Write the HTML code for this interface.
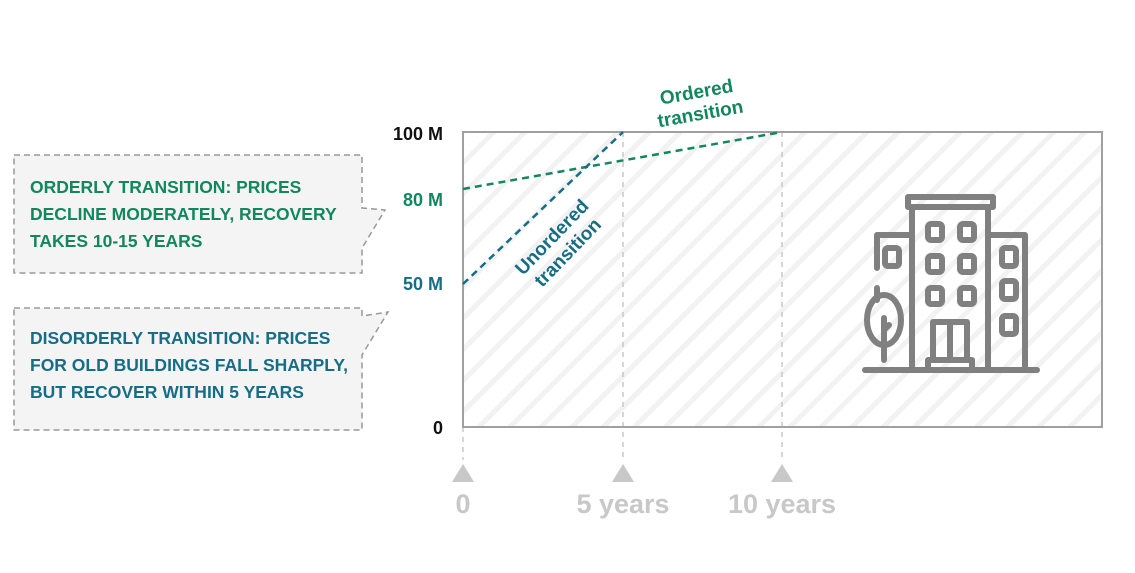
<!DOCTYPE html>
<html><head><meta charset="utf-8"><style>
body{margin:0;background:#fff;width:1135px;height:568px;overflow:hidden}
svg text{font-family:"Liberation Sans",sans-serif;font-weight:bold}
</style></head><body>
<svg width="1135" height="568" viewBox="0 0 1135 568" xmlns="http://www.w3.org/2000/svg">
<defs>
<pattern id="st" patternUnits="userSpaceOnUse" width="22" height="22" patternTransform="rotate(45)">
<rect width="22" height="22" fill="#fff"/><rect x="0" y="0" width="5" height="22" fill="#f2f2f2"/>
</pattern>
</defs>
<rect x="463" y="132" width="639" height="295" fill="url(#st)"/>
<line x1="623" y1="132" x2="623" y2="460" stroke="#c8c8c8" stroke-width="1.5" stroke-dasharray="5,5"/>
<line x1="782" y1="132" x2="782" y2="460" stroke="#c8c8c8" stroke-width="1.5" stroke-dasharray="5,5"/>
<line x1="463" y1="427" x2="463" y2="460" stroke="#c8c8c8" stroke-width="1.5" stroke-dasharray="5,5"/>
<rect x="463" y="132" width="639" height="295" fill="none" stroke="#a0a0a0" stroke-width="2"/>
<line x1="463" y1="189" x2="782" y2="132" stroke="#12875e" stroke-width="2.5" stroke-dasharray="7,5"/>
<line x1="463" y1="284" x2="623" y2="132" stroke="#156e86" stroke-width="2.5" stroke-dasharray="7,5"/>
<text x="443" y="140" text-anchor="end" font-size="18" fill="#111">100 M</text>
<text x="443" y="206" text-anchor="end" font-size="18" fill="#12875e">80 M</text>
<text x="443" y="290" text-anchor="end" font-size="18" fill="#156e86">50 M</text>
<text x="443" y="434" text-anchor="end" font-size="18" fill="#111">0</text>
<g transform="translate(700,112) rotate(-10)" fill="#12875e" font-size="19" text-anchor="middle"><text x="0" y="-14">Ordered</text><text x="0" y="8">transition</text></g>
<g transform="translate(560,245) rotate(-46)" fill="#156e86" font-size="19" text-anchor="middle"><text x="0" y="-5">Unordered</text><text x="0" y="17">transition</text></g>
<g fill="#c8c8c8"><polygon points="452,482 474,482 463,464"/><polygon points="612,482 634,482 623,464"/><polygon points="771,482 793,482 782,464"/></g>
<g fill="#c8c8c8" font-size="27" text-anchor="middle"><text x="463" y="513">0</text><text x="623" y="513">5 years</text><text x="782" y="513">10 years</text></g>
<path d="M14,155 H362 V208 L385,210 L362,248 V273 H14 Z" fill="#f5f4f4" stroke="#999" stroke-width="1.5" stroke-dasharray="6,4"/>
<path d="M14,308 H362 V316 L388,312 L362,355 V430 H14 Z" fill="#f5f4f4" stroke="#999" stroke-width="1.5" stroke-dasharray="6,4"/>
<g fill="#12875e" font-size="17.5"><text x="30" y="193">ORDERLY TRANSITION: PRICES</text><text x="30" y="220">DECLINE MODERATELY, RECOVERY</text><text x="30" y="247">TAKES 10-15 YEARS</text></g>
<g fill="#156e86" font-size="17.5"><text x="30" y="344">DISORDERLY TRANSITION: PRICES</text><text x="30" y="371">FOR OLD BUILDINGS FALL SHARPLY,</text><text x="30" y="398">BUT RECOVER WITHIN 5 YEARS</text></g>
<g fill="none" stroke="#808080" stroke-width="6" stroke-linecap="round" stroke-linejoin="round">
<path d="M908,207 V197 H993 V207 H908"/>
<path d="M912,207 V370 M988,207 V370"/>
<path d="M912,235 H877 V268 M877,288 V300"/>
<path d="M988,235 H1025 V370"/>
<path d="M865,370 H1037"/>
<rect x="885" y="248" width="14" height="18" rx="3"/>
<rect x="928" y="224" width="14" height="16" rx="3"/><rect x="960" y="224" width="14" height="16" rx="3"/>
<rect x="928" y="256" width="14" height="16" rx="3"/><rect x="960" y="256" width="14" height="16" rx="3"/>
<rect x="928" y="288" width="14" height="16" rx="3"/><rect x="960" y="288" width="14" height="16" rx="3"/>
<rect x="1002" y="248" width="14" height="18" rx="3"/><rect x="1002" y="281" width="14" height="18" rx="3"/><rect x="1002" y="316" width="14" height="18" rx="3"/>
<path d="M933,360 V322 H967 V360 M950,322 V360 M928,370 V360 H972 V370"/>
<ellipse cx="884" cy="320" rx="17" ry="25"/>
<path d="M884,318 V360 M884,330 L889,325"/>
</g>
</svg>
</body></html>
